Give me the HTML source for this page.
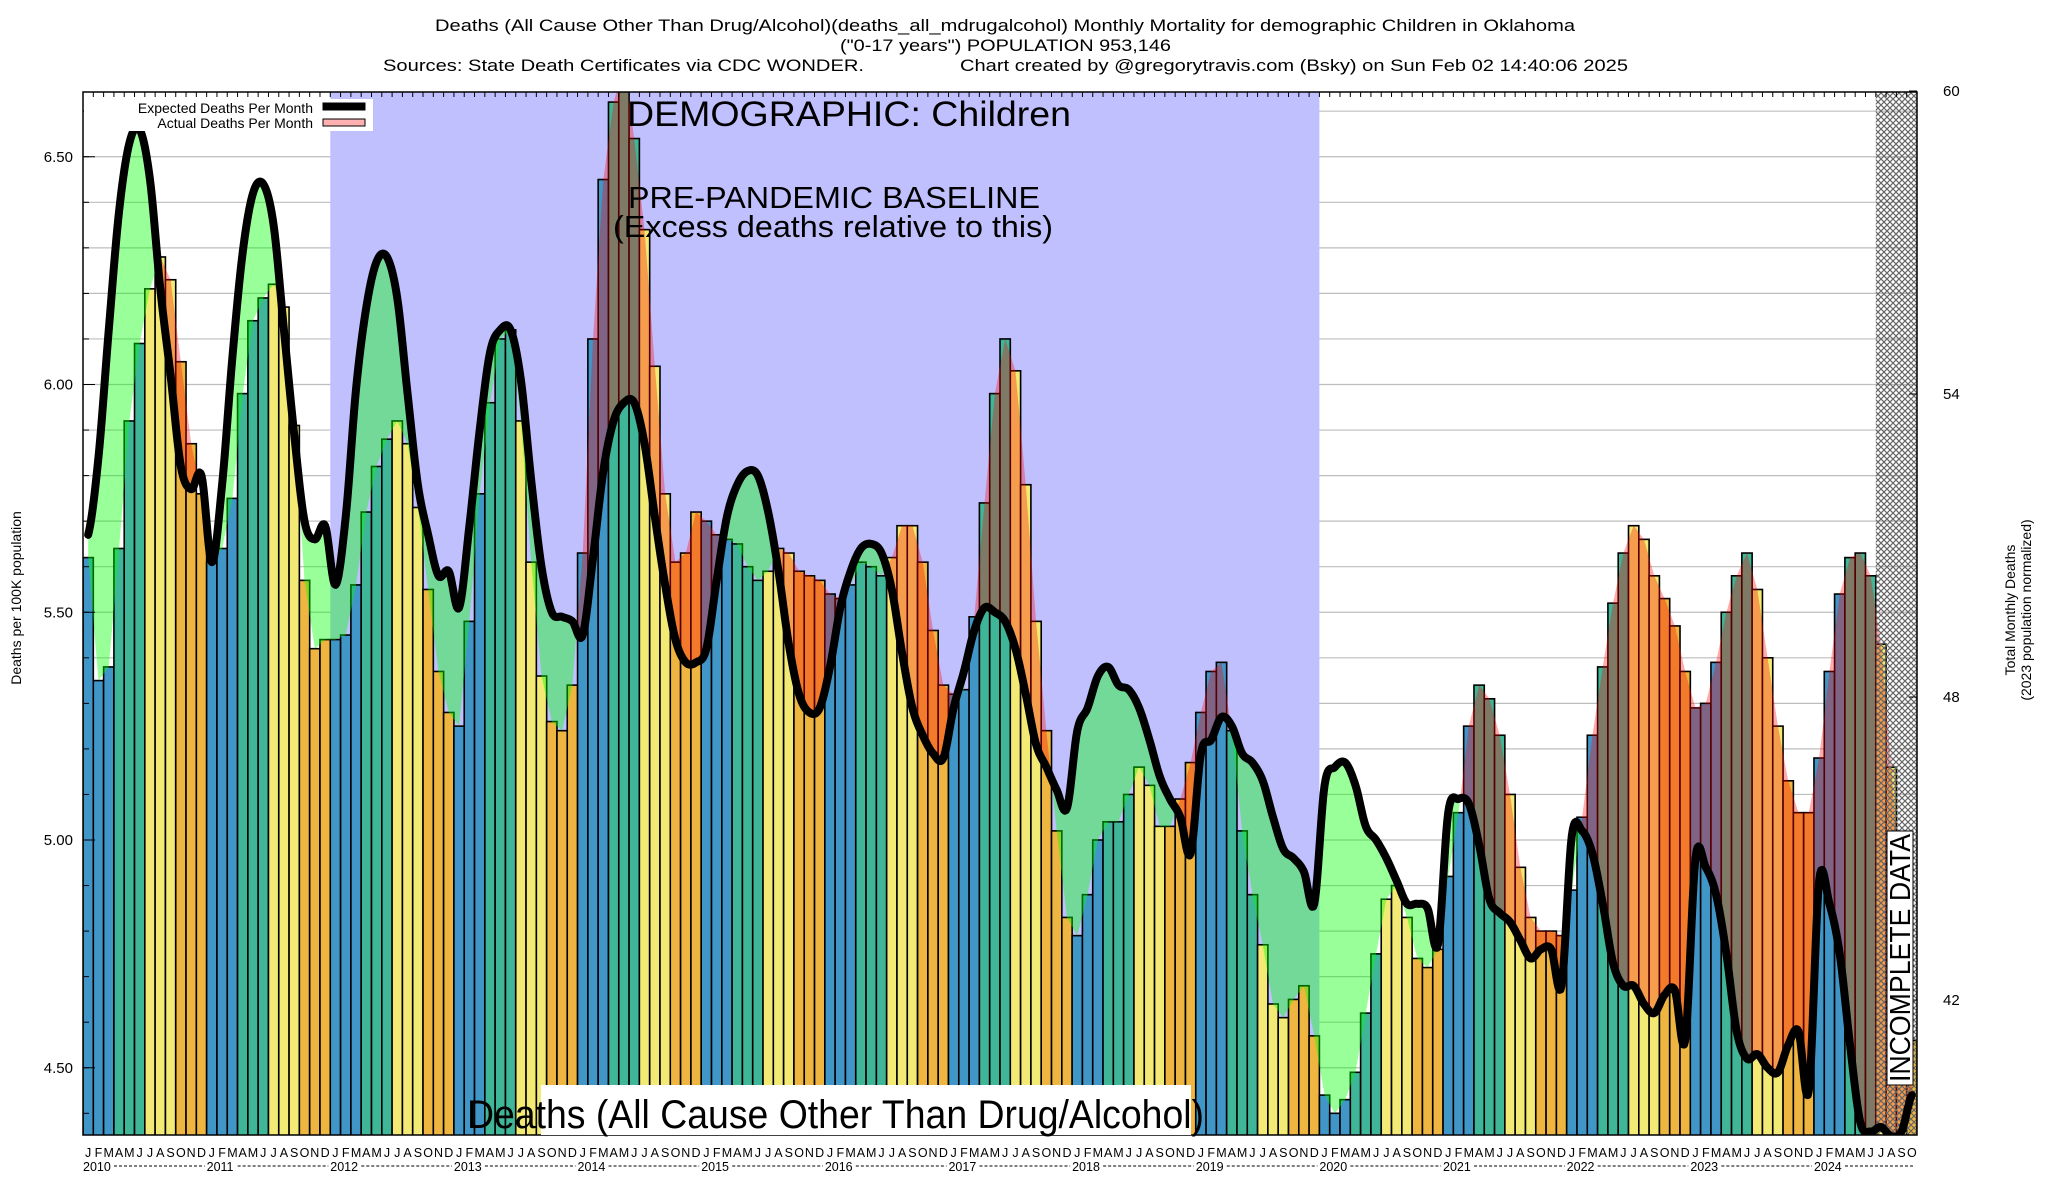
<!DOCTYPE html>
<html><head><meta charset="utf-8"><style>
html,body{margin:0;padding:0;background:#fff;}
svg{display:block;font-family:"Liberation Sans",Arial,sans-serif;}
</style></head><body>
<svg id="chart" width="2048" height="1200" viewBox="0 0 2048 1200" xmlns="http://www.w3.org/2000/svg">
<defs>
<clipPath id="plotclip"><rect x="83" y="92" width="1834" height="1043"/></clipPath>
<pattern id="hatch" width="6" height="6" patternUnits="userSpaceOnUse">
<path d="M0,0 L6,6 M6,0 L0,6" stroke="#666" stroke-width="1.2"/>
</pattern>
</defs>
<rect x="0" y="0" width="2048" height="1200" fill="#fff"/>
<g font-size="17" fill="#000">
<text x="435" y="31" textLength="1140" lengthAdjust="spacingAndGlyphs">Deaths (All Cause Other Than Drug/Alcohol)(deaths_all_mdrugalcohol) Monthly Mortality for demographic Children in Oklahoma</text>
<text x="840" y="51" textLength="331" lengthAdjust="spacingAndGlyphs">("0-17 years") POPULATION 953,146</text>
<text x="383" y="71" textLength="481" lengthAdjust="spacingAndGlyphs">Sources: State Death Certificates via CDC WONDER.</text>
<text x="960" y="71" textLength="668" lengthAdjust="spacingAndGlyphs">Chart created by @gregorytravis.com (Bsky) on Sun Feb 02 14:40:06 2025</text>
</g>
<g id="grid"></g>
<g id="plot" clip-path="url(#plotclip)"></g>
<g id="axes"></g>
<g fill="#000">
<text x="627" y="126" font-size="35" textLength="444" lengthAdjust="spacingAndGlyphs">DEMOGRAPHIC: Children</text>
<text x="628" y="208" font-size="31" textLength="412" lengthAdjust="spacingAndGlyphs">PRE-PANDEMIC BASELINE</text>
<text x="613" y="237" font-size="31" textLength="440" lengthAdjust="spacingAndGlyphs">(Excess deaths relative to this)</text>
<rect x="541" y="1085" width="650" height="50" fill="#fff"/>
<text x="467" y="1128" font-size="40" textLength="737" lengthAdjust="spacingAndGlyphs">Deaths (All Cause Other Than Drug/Alcohol)</text>
<rect x="1887" y="831" width="26" height="254" fill="#fff" stroke="#000" stroke-width="1"/>
<text transform="translate(1910,1082) rotate(-90)" font-size="29" textLength="248" lengthAdjust="spacingAndGlyphs">INCOMPLETE DATA</text>
</g>
<g>
<rect x="84" y="99" width="289" height="32" fill="#fff"/>
<text x="313" y="113" font-size="14" text-anchor="end">Expected Deaths Per Month</text>
<rect x="323" y="103" width="42" height="7" fill="#000" stroke="#000"/>
<text x="313" y="128" font-size="14" text-anchor="end">Actual Deaths Per Month</text>
<rect x="323" y="119" width="42" height="7" fill="#ffb0b0" stroke="#000"/>
</g>
</svg>
<script>
const monthLetters = ['J','F','M','A','M','J','J','A','S','O','N','D'];
const yearLabels = ['2010','2011','2012','2013','2014','2015','2016','2017','2018','2019','2020','2021','2022','2023','2024'];
const actualRate = [
5.62,5.35,5.38,5.64,5.92,6.09,6.21,6.28,6.23,6.05,5.87,5.76,
5.61,5.64,5.75,5.98,6.14,6.19,6.22,6.17,5.91,5.57,5.42,5.44,
5.44,5.45,5.56,5.72,5.82,5.88,5.92,5.87,5.73,5.55,5.37,5.28,
5.25,5.48,5.76,5.96,6.10,6.12,5.92,5.61,5.36,5.26,5.24,5.34,
5.63,6.10,6.45,6.62,6.70,6.54,6.34,6.04,5.76,5.61,5.63,5.72,
5.70,5.67,5.66,5.65,5.60,5.57,5.59,5.64,5.63,5.59,5.58,5.57,
5.54,5.53,5.56,5.61,5.60,5.58,5.62,5.69,5.69,5.61,5.46,5.34,
5.32,5.33,5.49,5.74,5.98,6.10,6.03,5.78,5.48,5.24,5.02,4.83,
4.79,4.88,5.00,5.04,5.04,5.10,5.16,5.12,5.03,5.03,5.09,5.17,
5.28,5.37,5.39,5.24,5.02,4.88,4.77,4.64,4.61,4.65,4.68,4.57,
4.44,4.40,4.43,4.49,4.62,4.75,4.87,4.90,4.83,4.74,4.72,4.76,
4.92,5.06,5.25,5.34,5.31,5.23,5.10,4.94,4.83,4.80,4.80,4.79,
4.89,5.05,5.23,5.38,5.52,5.63,5.69,5.66,5.58,5.53,5.47,5.37,
5.29,5.30,5.39,5.50,5.58,5.63,5.55,5.40,5.25,5.13,5.06,5.06,
5.18,5.37,5.54,5.62,5.63,5.58,5.43,5.16,4.85,4.56];
const expectedRate = [
5.67,5.84,6.12,6.38,6.53,6.56,6.45,6.21,6.02,5.82,5.77,5.80,
5.61,5.78,6.06,6.29,6.42,6.44,6.35,6.12,5.89,5.70,5.66,5.69,
5.56,5.71,5.99,6.17,6.27,6.28,6.19,5.98,5.78,5.67,5.58,5.59,
5.51,5.69,5.90,6.07,6.12,6.12,6.01,5.79,5.60,5.50,5.49,5.48,
5.45,5.62,5.81,5.92,5.96,5.96,5.87,5.71,5.56,5.44,5.39,5.39,
5.42,5.57,5.71,5.78,5.81,5.80,5.72,5.59,5.43,5.32,5.28,5.29,
5.38,5.51,5.59,5.64,5.65,5.63,5.55,5.41,5.29,5.23,5.19,5.18,
5.29,5.37,5.46,5.51,5.50,5.48,5.42,5.32,5.21,5.16,5.11,5.07,
5.24,5.29,5.36,5.38,5.34,5.33,5.29,5.22,5.14,5.09,5.05,4.97,
5.19,5.22,5.27,5.25,5.19,5.17,5.13,5.05,4.98,4.96,4.93,4.86,
5.12,5.16,5.17,5.12,5.03,5.00,4.96,4.91,4.86,4.86,4.85,4.77,
5.06,5.09,5.08,4.99,4.87,4.84,4.82,4.78,4.74,4.76,4.76,4.68,
5.01,5.02,4.97,4.86,4.73,4.68,4.68,4.64,4.62,4.66,4.67,4.56,
4.96,4.94,4.88,4.75,4.58,4.52,4.53,4.50,4.49,4.55,4.58,4.45,
4.91,4.86,4.75,4.55,4.38,4.36,4.37,4.35,4.36,4.44];
const leftTicks = [4.5,5.0,5.5,6.0,6.5];
const leftTickLabels = ['4.50','5.00','5.50','6.00','6.50'];
const rightTicks = [42,48,54,60];
const rightTickLabels = ['42','48','54','60'];
const baselineStartMonth = 24, baselineEndMonth = 120, incompleteStartMonth = 174;

const NS='http://www.w3.org/2000/svg';
const L=83, R=1917, T=92, B=1135;
const N=actualRate.length;
const W=(R-L)/N;
function X(i){return L+i*W;}
function Y(v){return 840-(v-5)*455.5;}
function YR(d){return 1000-(d-42)*50.5;}
function mk(tag,attrs,parent){const e=document.createElementNS(NS,tag);for(const k in attrs)e.setAttribute(k,attrs[k]);parent.appendChild(e);return e;}
const grid=document.getElementById('grid'), plot=document.getElementById('plot'), axes=document.getElementById('axes');

// gridlines every 0.1
for(let k=44;k<=66;k++){
  const y=Y(k/10); if(y<T||y>B) continue;
  const g=mk('line',{x1:L,x2:R,y1:y,y2:y,stroke:'#bdbdbd','stroke-width':1.2},grid);
  
  
}
// baseline region
const bl=mk('rect',{x:X(baselineStartMonth),y:T,width:X(baselineEndMonth)-X(baselineStartMonth),height:B-T,fill:'#c0c0ff'},plot);



// bars
const barColors=['#4196c8','#4196c8','#4196c8','#40b698','#40b698','#40b698','#f2ea74','#f2ea74','#f2ea74','#eeb640','#eeb640','#eeb640'];
for(let i=0;i<N;i++){
  const y=Y(actualRate[i]);
  const b=mk('rect',{x:X(i),y:y,width:W,height:B-y+2,fill:barColors[i%12],stroke:'#000','stroke-width':1.6},plot);
  
  
}
// catmull-rom for expected
function cr(i,t){
  const p0=expectedRate[Math.max(i-1,0)],p1=expectedRate[i],p2=expectedRate[Math.min(i+1,N-1)],p3=expectedRate[Math.min(i+2,N-1)];
  return 0.5*(2*p1+(-p0+p2)*t+(2*p0-5*p1+4*p2-p3)*t*t+(-p0+3*p1-3*p2+p3)*t*t*t);
}
const S=8, pts=[];
for(let i=0;i<N-1;i++){
  for(let s=0;s<S;s++){
    const t=s/S;
    pts.push({x:X(i+0.5+t),e:cr(i,t),a:actualRate[i]+(actualRate[i+1]-actualRate[i])*t});
  }
}
pts.push({x:X(N-0.5),e:expectedRate[N-1],a:actualRate[N-1]});
const full=[pts[0]];
for(let k=1;k<pts.length;k++){
  const p=pts[k-1],q=pts[k];const d0=p.e-p.a,d1=q.e-q.a;
  if(d0*d1<0){const t=d0/(d0-d1);const e=p.e+(q.e-p.e)*t;full.push({x:p.x+(q.x-p.x)*t,e:e,a:e});}
  full.push(q);
}
let gp='',rp='';
full.forEach((p,k)=>{gp+=(k?'L':'M')+p.x.toFixed(2)+','+Y(p.e).toFixed(2);rp+=(k?'L':'M')+p.x.toFixed(2)+','+Y(Math.max(p.a,p.e)).toFixed(2);});
for(let k=full.length-1;k>=0;k--){const p=full[k];gp+='L'+p.x.toFixed(2)+','+Y(Math.min(p.a,p.e)).toFixed(2);rp+='L'+p.x.toFixed(2)+','+Y(p.e).toFixed(2);}
const gf=mk('path',{d:gp+'Z',fill:'rgba(0,255,0,0.4)'},plot);


const rf=mk('path',{d:rp+'Z',fill:'rgba(255,0,0,0.33)'},plot);


// hatch incomplete
const hx=X(incompleteStartMonth);
const ht=mk('rect',{x:hx,y:T,width:R-hx,height:B-T,fill:'url(#hatch)'},plot);


// expected curve
let cp='';
for(let i=0;i<N-1;i++){for(let s=0;s<10;s++){const t=s/10;cp+=(cp?'L':'M')+X(i+0.5+t).toFixed(2)+','+Y(cr(i,t)).toFixed(2);}}
cp+='L'+X(N-0.5).toFixed(2)+','+Y(expectedRate[N-1]).toFixed(2);
const cl=mk('path',{d:cp,fill:'none',stroke:'#000','stroke-width':8,'stroke-linejoin':'round','stroke-linecap':'round'},plot);



// frame
const fr=mk('rect',{x:L,y:T,width:R-L,height:B-T,fill:'none',stroke:'#000','stroke-width':1.5},axes);


// left minor ticks
for(let k=44;k<=66;k++){const y=Y(k/10);if(y<T||y>B)continue;
  const t=mk('line',{x1:L,x2:L+6,y1:y,y2:y,stroke:'#000','stroke-width':1},axes);
  
  
}
leftTicks.forEach((v,k)=>{
  const tx=mk('text',{x:73,y:Y(v)+5,'font-size':15,'text-anchor':'end'},axes);tx.textContent=leftTickLabels[k];
  
  
  const tl=mk('line',{x1:L,x2:L+12,y1:Y(v),y2:Y(v),stroke:'#000','stroke-width':1},axes);
  
  
});
rightTicks.forEach((d,k)=>{
  const tx=mk('text',{x:1943,y:YR(d)+5,'font-size':15},axes);tx.textContent=rightTickLabels[k];
  
  
  const tl=mk('line',{x1:R-8,x2:R,y1:YR(d),y2:YR(d),stroke:'#000','stroke-width':1},axes);
  
  
});
// top month ticks
for(let i=0;i<=N;i++){
  const t=mk('line',{x1:X(i),x2:X(i),y1:T,y2:T+5,stroke:'#000','stroke-width':1},axes);
  
  
}
// month letters
for(let i=0;i<N;i++){
  const tx=mk('text',{x:X(i+0.5),y:1157,'font-size':12.5,'text-anchor':'middle'},axes);tx.textContent=monthLetters[i%12];
  
  
}
yearLabels.forEach((yr,k)=>{
  const x0=X(k*12);
  const tx=mk('text',{x:x0,y:1171,'font-size':12.5},axes);tx.textContent=yr;
  
  
  const x1=Math.min(X(k*12+12),R);
  const dl=mk('line',{x1:x0+31,x2:x1-2,y1:1166,y2:1166,stroke:'#000','stroke-width':1,'stroke-dasharray':'3,2'},axes);
  
  
});
// axis titles
const yt=mk('text',{transform:'translate(21,598) rotate(-90)','font-size':14,'text-anchor':'middle'},axes);yt.textContent='Deaths per 100K population';


const y2a=mk('text',{transform:'translate(2015,610) rotate(-90)','font-size':14,'text-anchor':'middle'},axes);y2a.textContent='Total Monthly Deaths';


const y2b=mk('text',{transform:'translate(2031,610) rotate(-90)','font-size':14,'text-anchor':'middle'},axes);y2b.textContent='(2023 population normalized)';


</script>
</body></html>
